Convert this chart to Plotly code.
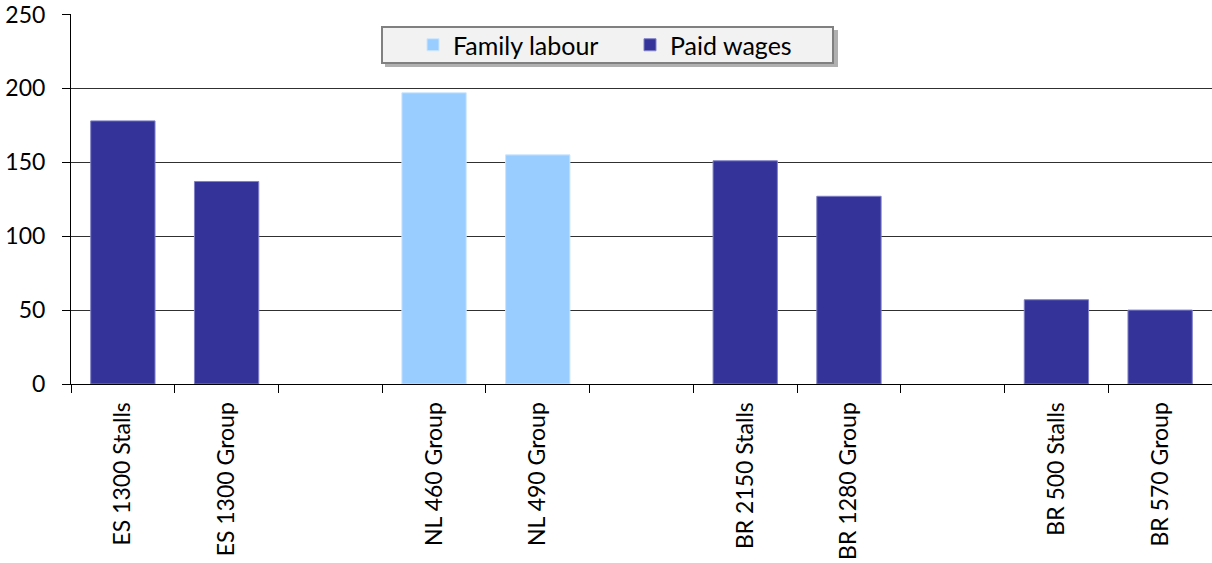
import plotly.graph_objects as go

categories = ["ES 1300 Stalls", "ES 1300 Group", " ", "NL 460 Group", "NL 490 Group", "  ",
              "BR 2150 Stalls", "BR 1280 Group", "   ", "BR 500 Stalls", "BR 570 Group"]
family_labour = [None, None, None, 197, 155, None, None, None, None, None, None]
paid_wages = [178, 137, None, None, None, None, 151, 127, None, 57, 50]
y_ticks = [0, 50, 100, 150, 200, 250]

FONT = "Lato"
FW, FH = 1212, 563
L, T, W, H = 71, 14, 1141, 370


def px_x(p):
    return (p - L) / W


def px_y(p):
    return (T + H - p) / H


fig = go.Figure()
fig.add_trace(go.Bar(x=categories, y=family_labour, name="Family labour",
                     marker=dict(color="#99CCFF", line=dict(color="#CCE6FF", width=1))))
fig.add_trace(go.Bar(x=categories, y=paid_wages, name="Paid wages",
                     marker=dict(color="#333399", line=dict(color="#8080C8", width=1))))

fig.update_layout(
    width=FW, height=FH,
    margin=dict(l=L, r=FW - L - W, t=T, b=FH - T - H, autoexpand=False),
    barmode="overlay", bargap=0.38,
    plot_bgcolor="white", paper_bgcolor="white",
    font=dict(family=FONT, size=23, color="black"),
    showlegend=True,
    legend=dict(orientation="h", x=px_x(413), y=px_y(45), xanchor="left", yanchor="middle",
                bgcolor="rgba(0,0,0,0)", borderwidth=0,
                font=dict(size=25, family=FONT), entrywidth=172,
                itemwidth=30, traceorder="normal"),
    shapes=[
        dict(type="rect", xref="paper", yref="paper",
             x0=px_x(385), x1=px_x(838), y0=px_y(67), y1=px_y(30),
             fillcolor="#B0B0B0", line=dict(width=0), layer="above"),
        dict(type="rect", xref="paper", yref="paper",
             x0=px_x(382), x1=px_x(833), y0=px_y(63), y1=px_y(27),
             fillcolor="#F2F2F2", line=dict(color="#808080", width=2), layer="above"),
    ],
)
fig.update_xaxes(type="category", categoryorder="array", categoryarray=categories,
                 showline=True, linecolor="black", linewidth=1,
                 ticks="outside", tickson="boundaries", ticklen=8, tickcolor="black",
                 tickangle=-90, tickfont=dict(size=23, family=FONT), showgrid=False,
                 ticklabelstandoff=8)
fig.update_yaxes(range=[0, 250.3], tickvals=y_ticks, showline=True, linecolor="black", linewidth=1,
                 ticks="outside", ticklen=8, tickcolor="black",
                 showgrid=True, gridcolor="#303030", gridwidth=1, zeroline=False,
                 tickfont=dict(size=23, family=FONT), ticklabelstandoff=12,
                 ticklabeloverflow="allow")

fig.write_html("out.html", config={"displayModeBar": False},
               post_script="document.body.style.margin='0';document.body.style.overflow='hidden';")
